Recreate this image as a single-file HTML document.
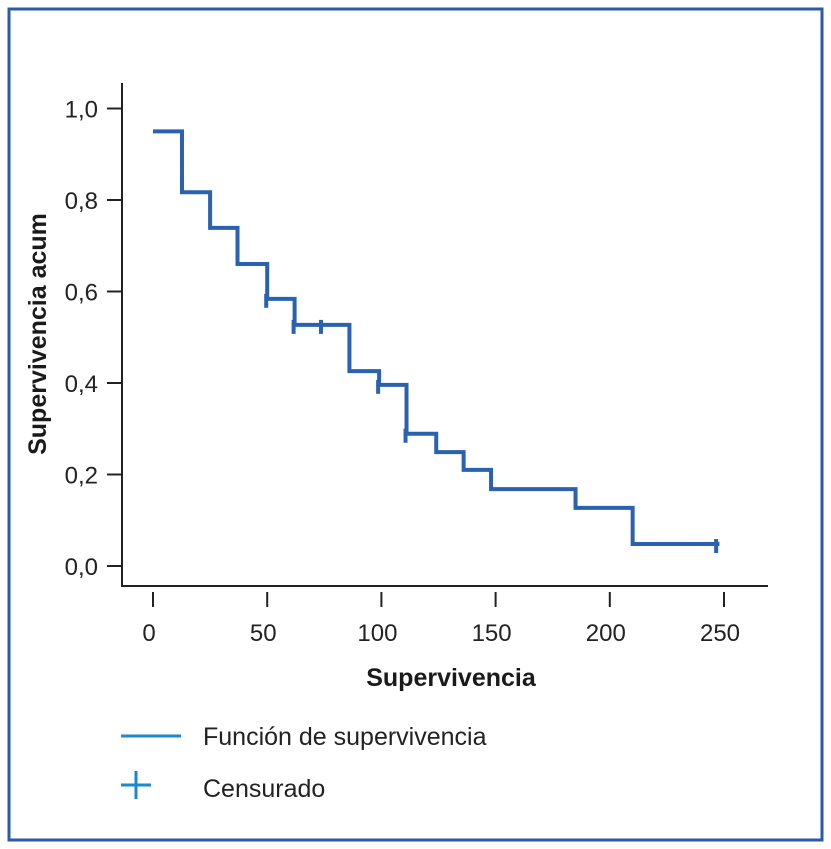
<!DOCTYPE html>
<html><head><meta charset="utf-8"><style>
html,body{margin:0;padding:0;background:#fff;}
svg{display:block;font-family:"Liberation Sans","DejaVu Sans",sans-serif;}
</style></head><body>
<svg id="chart" width="831" height="849" viewBox="0 0 831 849">
<rect x="9" y="9" width="813" height="831" fill="none" stroke="#2a5aa8" stroke-width="3"/>
<g id="axes"></g>
<g id="plot"></g>
<text x="46" y="334" font-size="25" font-weight="bold" fill="#1a1a1a" text-anchor="middle" transform="rotate(-90 46 334)">Supervivencia acum</text>
<text x="451" y="686" font-size="25" font-weight="bold" fill="#1a1a1a" text-anchor="middle">Supervivencia</text>
<g>
<line x1="121" y1="736" x2="181" y2="736" stroke="#1a8ad0" stroke-width="3"/>
<text x="203" y="745" font-size="25" fill="#222">Función de supervivencia</text>
<line x1="121" y1="785" x2="151" y2="785" stroke="#1a8ad0" stroke-width="3"/>
<line x1="136" y1="771" x2="136" y2="799" stroke="#1a8ad0" stroke-width="3"/>
<text x="203" y="797" font-size="25" fill="#222">Censurado</text>
</g>
</svg>
<script>
const xTicks = [0, 50, 100, 150, 200, 250];
const yTicks = [0, 0.2, 0.4, 0.6, 0.8, 1.0];
const yTickLabels = ["0,0", "0,2", "0,4", "0,6", "0,8", "1,0"];
const stepTimes = [0, 12.7, 25, 37, 50, 62, 86, 99, 111, 124, 136, 148, 185, 210];
const stepValues = [0.95, 0.817, 0.739, 0.66, 0.584, 0.527, 0.426, 0.396, 0.289, 0.249, 0.21, 0.168, 0.127, 0.048];
const endTime = 248;
const censorTimes = [50, 62, 74, 99, 111, 247];

const NS = "http://www.w3.org/2000/svg";
function X(t){ return 153 + t * 2.284; }
function Y(v){ return 566 - v * 457.5; }
function mk(tag, attrs, parent){
  const e = document.createElementNS(NS, tag);
  for (const k in attrs) e.setAttribute(k, attrs[k]);
  parent.appendChild(e); return e;
}
const axes = document.getElementById("axes");
const plot = document.getElementById("plot");
let el = mk("line", {x1:122, y1:83, x2:122, y2:587, stroke:"#222", "stroke-width":2}, axes);


el = mk("line", {x1:121, y1:586, x2:768, y2:586, stroke:"#222", "stroke-width":2}, axes);


yTicks.forEach((v, i) => {
  const t = mk("line", {x1:107, y1:Y(v), x2:122, y2:Y(v), stroke:"#222", "stroke-width":2}, axes);
  
  
  const l = mk("text", {x:98, y:Y(v)+9, "font-size":24, fill:"#222", "text-anchor":"end"}, axes);
  l.textContent = yTickLabels[i];
  
  
});
xTicks.forEach(v => {
  const t = mk("line", {x1:X(v), y1:592, x2:X(v), y2:607, stroke:"#222", "stroke-width":2}, axes);
  
  
  const l = mk("text", {x:X(v)-4, y:641, "font-size":24, fill:"#222", "text-anchor":"middle"}, axes);
  l.textContent = String(v);
  
  
});
let d = "M" + X(stepTimes[0]) + " " + Y(stepValues[0]);
for (let i = 1; i < stepTimes.length; i++) {
  d += " H" + X(stepTimes[i]) + " V" + Y(stepValues[i]);
}
d += " H" + X(endTime);
const path = mk("path", {d:d, fill:"none", stroke:"#2b62b0", "stroke-width":4}, plot);


function valueAt(t){
  let v = stepValues[0];
  for (let i = 0; i < stepTimes.length; i++) if (stepTimes[i] <= t) v = stepValues[i];
  return v;
}
censorTimes.forEach(t => {
  const y = Y(valueAt(t));
  const c = mk("line", {x1:X(t)-1, y1:y-5, x2:X(t)-1, y2:y+9, stroke:"#2b62b0", "stroke-width":4}, plot);
  
  
});
</script>
</body></html>
